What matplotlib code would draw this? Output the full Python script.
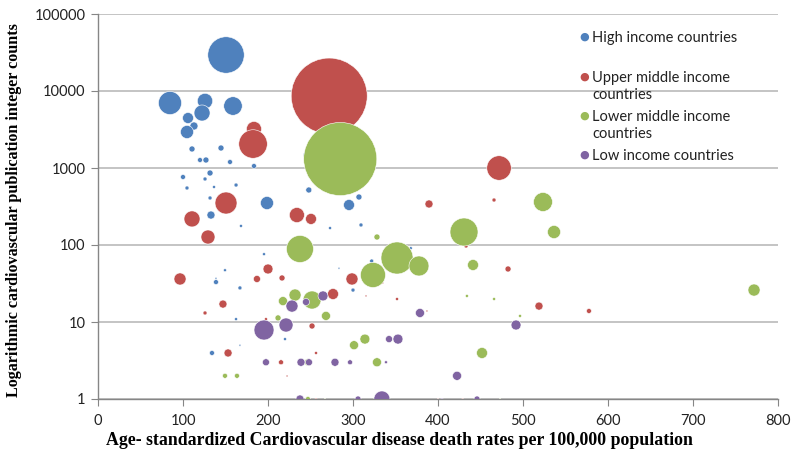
import matplotlib
matplotlib.use("Agg")
import matplotlib.pyplot as plt
import numpy as np

# ---- data: (death rate, publication count, population in millions) ----
high_x = [150.6, 84.7, 125.9, 122.4, 158.8, 105.9, 112.9, 104.7, 110.6, 144.7,
          120.0, 127.0, 155.3, 183.5, 100.0, 131.8, 125.9, 104.7, 136.5, 162.4,
          198.8, 131.8, 132.9, 168.2, 195.3, 149.4, 138.8, 138.8, 167.0, 162.4,
          167.0, 134.1, 220.0, 248.0, 247.0, 295.3, 307.0, 273.0, 309.4, 368.0,
          322.0, 283.5, 300.0]
high_y = [29350, 6985, 7413, 5180, 6385, 4460, 3510, 2936, 1766, 1818,
          1270, 1270, 1197, 1062, 764, 861, 720, 550, 567, 601,
          351, 408, 245, 177, 76, 47, 33, 37, 27.7, 10.9,
          5.0, 3.96, 6.0, 518, 1475, 331, 420, 166, 182, 91,
          62, 50, 26]
high_pop = [310, 124, 55, 60, 80, 28, 15, 40, 8.4, 8.4,
            5.8, 8.4, 5.8, 5.8, 5.8, 8.4, 3.7, 3.7, 2.1, 3.7,
            40, 3.7, 15, 2.1, 2.1, 2.1, 5.8, 0.9, 3.7, 2.1,
            0.9, 5.8, 2.1, 8.4, 19, 28, 8.4, 2.1, 3.7, 2.1,
            3.7, 0.9, 3.7]

upper_x = [272.0, 183.5, 182.4, 471.8, 150.6, 110.6, 129.4, 234.0, 250.6, 200.0,
           96.5, 187.0, 216.5, 147.0, 125.9, 197.6, 153.0, 215.3, 222.4, 389.4,
           465.9, 298.8, 482.4, 276.5, 315.3, 351.8, 335.0, 518.8, 387.0, 251.8,
           256.5, 256.5, 433.0, 577.6, 400.0, 429.0]
upper_y = [8600, 3210, 2050, 1000, 351, 218, 127, 245, 218, 48.8,
           36.2, 36.2, 37.3, 17.1, 13.1, 10.9, 3.96, 3.0, 1.99, 341,
           384, 36.2, 48.8, 23.1, 21.8, 19.9, 32.1, 16.1, 13.9, 8.87,
           3.96, 1.0, 97, 13.9, 1.0, 1.0]
upper_pop = [1350, 53, 190, 140, 113, 60, 46, 53, 28, 23,
             34, 11.5, 8.4, 15, 3.7, 2.1, 15, 5.8, 0.9, 15,
             3.7, 34, 8.4, 28, 0.9, 2.1, 0.9, 15, 0.9, 8.4,
             2.1, 0.9, 3.7, 5.8, 0.5, 0.5]

lower_x = [285.0, 237.6, 351.8, 323.5, 377.6, 430.6, 523.5, 536.5, 328.2, 441.2,
           434.0, 466.0, 231.8, 251.8, 217.6, 268.2, 496.5, 301.2, 314.0, 328.2,
           451.8, 247.0, 247.0, 211.8, 149.4, 163.5, 267.0, 473.0, 771.8]
lower_y = [1309, 88.8, 67.8, 40.8, 53.4, 147.5, 362, 147.5, 127, 55,
           21.8, 19.9, 22.4, 19.3, 18.7, 12.0, 12.0, 5.0, 6.0, 3.0,
           3.96, 3.0, 1.0, 11.3, 2.0, 2.0, 1.0, 1.0, 26]
lower_pop = [1250, 170, 240, 146, 93, 183, 84, 40, 8.4, 28,
             2.1, 2.1, 34, 76, 19, 19, 2.1, 19, 23, 19,
             28, 11.5, 5.8, 8.4, 5.8, 5.8, 0.5, 0.5, 34]

low_x = [195.3, 221.2, 228.2, 244.7, 197.6, 238.8, 237.6, 264.7, 378.8, 342.4,
         352.9, 248.2, 278.8, 296.5, 338.8, 422.4, 491.8, 305.9, 334.0, 404.7,
         445.9]
low_y = [7.87, 9.14, 16.1, 18.2, 3.0, 3.0, 1.0, 21.8, 13.1, 6.0,
         6.0, 3.0, 3.0, 3.0, 3.0, 2.0, 9.14, 1.0, 1.0, 1.0,
         1.0]
low_pop = [93, 46, 34, 11.5, 11.5, 15, 15, 23, 19, 11.5,
           23, 11.5, 15, 5.8, 2.1, 19, 23, 8.4, 60, 0.9,
           8.4]

series_names = ["High income countries", "Upper middle income\ncountries",
                "Lower middle income\ncountries", "Low income countries"]
colors = ["#4F81BD", "#C0504D", "#9BBB59", "#8064A2"]

x_ticks = [0, 100, 200, 300, 400, 500, 600, 700, 800]
y_ticks = [1, 10, 100, 1000, 10000, 100000]

xlabel = "Age- standardized Cardiovascular disease death rates per 100,000 population"
ylabel = "Logarithmic cardiovascular publication integer counts"

# ---- figure ----
fig = plt.figure(figsize=(8, 4.59), dpi=100)
ax = fig.add_axes([98 / 800, 1 - 399 / 459, 680 / 800, 385 / 459])

# bubble area proportional to population; largest bubble ~76 px diameter
px_per_pt = 100 / 72
max_d_pt = 76 / px_per_pt
def sizes(pop):
    return (max_d_pt ** 2) * np.asarray(pop, dtype=float) / 1350.0

all_series = [(high_x, high_y, high_pop), (upper_x, upper_y, upper_pop),
              (lower_x, lower_y, lower_pop), (low_x, low_y, low_pop)]
for i, ((xs, ys, ps), c) in enumerate(zip(all_series, colors)):
    ax.scatter(xs, ys, s=sizes(ps), color=c, edgecolors="white",
               linewidths=0.4, zorder=3 + i)

ax.set_yscale("log")
ax.set_xlim(0, 800)
ax.set_ylim(1, 100000)
ax.set_xticks(x_ticks)
ax.set_yticks(y_ticks)
ax.set_yticklabels([str(v) for v in y_ticks])
ax.yaxis.set_minor_locator(matplotlib.ticker.NullLocator())
ax.grid(axis="y", which="major", color="#BFBFBF", linewidth=1.3, zorder=0)
ax.set_axisbelow(True)

for side in ("top", "right"):
    ax.spines[side].set_visible(False)
for side in ("left", "bottom"):
    ax.spines[side].set_color("#868686")
    ax.spines[side].set_linewidth(1.0)
ax.tick_params(axis="both", which="major", direction="out", length=5,
               color="#868686", labelsize=10.5, labelcolor="#222222")
ax.tick_params(axis="x", pad=6)
ax.tick_params(axis="y", pad=4)
for lab in ax.get_xticklabels() + ax.get_yticklabels():
    lab.set_fontfamily("Lato")

ax.set_xlabel(xlabel, fontfamily="Liberation Serif", fontweight="bold", fontsize=12.8)
ax.xaxis.set_label_coords(0.443, -0.109)
ax.xaxis.label.set_va("center")
ax.set_ylabel(ylabel, fontfamily="Liberation Serif", fontweight="bold", fontsize=11.6)
ax.yaxis.set_label_coords(-0.1235, 0.49)
ax.yaxis.label.set_va("center")

# ---- legend (manual, Excel-like) ----
legend_y_px = [37, 77, 116, 155]
for name, c, ypx in zip(series_names, colors, legend_y_px):
    fy = 1 - ypx / 459
    fig.text(584 / 800, fy, "\u25CF", color=c, fontsize=8, ha="center", va="center",
             fontfamily="DejaVu Sans")
    fig.text(592 / 800, fy + 0.012, name, fontsize=10.5, fontfamily="Lato",
             color="#222222", ha="left", va="top", linespacing=1.25)

fig.savefig("out.png", dpi=100)
